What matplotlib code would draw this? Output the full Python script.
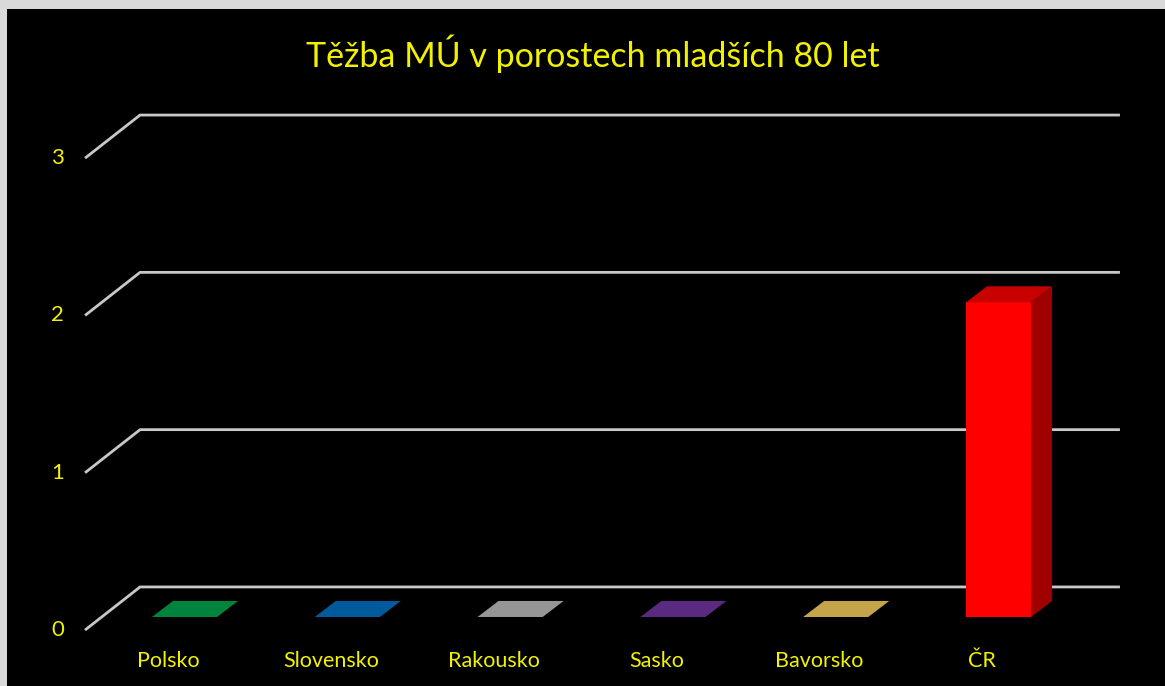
import matplotlib.pyplot as plt
from matplotlib.patches import Polygon, Rectangle

# data
categories = ['Polsko', 'Slovensko', 'Rakousko', 'Sasko', 'Bavorsko', 'ČR']
values = [0, 0, 0, 0, 0, 2]
front_colors = ['#00843d', '#005a9c', '#969696', '#5a2a80', '#c4a54c', '#ff0000']
top_colors = ['#00843d', '#005a9c', '#969696', '#5a2a80', '#c4a54c', '#c80000']
side_colors = ['#006a31', '#00487d', '#787878', '#482266', '#9d843d', '#a00000']
yticks = [0, 1, 2, 3]
title = 'Těžba MÚ v porostech mladších 80 let'

yellow = '#f2f200'
grid_col = '#c8c8c8'
plt.rcParams['font.family'] = ['Lato', 'DejaVu Sans']

W, H = 1165, 686
fig = plt.figure(figsize=(W / 100, H / 100), dpi=100, facecolor='black')
ax = fig.add_axes([0, 0, 1, 1])
ax.set_facecolor('black')
ax.axis('off')

# pixel mapping: category 0 centre at x=184.5px, 162.8px per category,
# value 0 at 69px from the bottom, 157.3px per unit
ax.set_xlim(-184.5 / 162.8, (W - 184.5) / 162.8)
ax.set_ylim(-69 / 157.3, (H - 69) / 157.3)

bar_w = 0.4
dx, dy = 0.129, 0.102          # bar depth
wall_front_x, wall_back_x = -0.611, -0.273
floor_front, floor_back = -0.083, 0.191
grid_end_x = 5.746

# gridlines on back wall + left wall
for t in yticks:
    ax.plot([wall_front_x, wall_back_x, grid_end_x],
            [t + floor_front, t + floor_back, t + floor_back],
            color=grid_col, lw=2, solid_capstyle='butt', zorder=1)
    ax.text(wall_front_x - 0.17, t + floor_front, str(t), color=yellow,
            fontsize=16, ha='center', va='center')

# bars
x = list(range(len(categories)))
ax.bar(x, values, width=bar_w, color=front_colors, zorder=3)
for i, v in enumerate(values):
    l, r = i - bar_w / 2, i + bar_w / 2
    ax.add_patch(Polygon([(l, v), (r, v), (r + dx, v + dy), (l + dx, v + dy)],
                         closed=True, facecolor=top_colors[i], edgecolor='none', zorder=3))
    if v > 0:
        ax.add_patch(Polygon([(r, 0), (r + dx, dy), (r + dx, v + dy), (r, v)],
                             closed=True, facecolor=side_colors[i], edgecolor='none', zorder=3))
    ax.text(i - 0.1, -0.28, categories[i], color=yellow, fontsize=15.5,
            ha='center', va='center')

fig.text(0.509, 0.921, title, color=yellow, fontsize=24.5, ha='center', va='center')

# light frame on top and left edge
fig.patches.append(Rectangle((0, 0), 7 / W, 1, transform=fig.transFigure,
                             facecolor='#d9d9d9', edgecolor='none', zorder=10))
fig.patches.append(Rectangle((0, 1 - 9 / H), 1, 9 / H, transform=fig.transFigure,
                             facecolor='#d9d9d9', edgecolor='none', zorder=10))

fig.savefig('out.png', dpi=100, facecolor='black')
